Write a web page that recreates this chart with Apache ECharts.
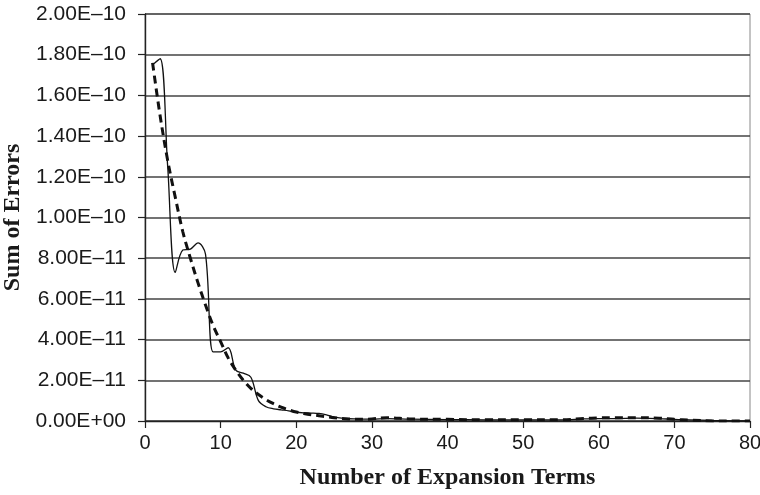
<!DOCTYPE html>
<html>
<head>
<meta charset="utf-8">
<script src="https://cdn.jsdelivr.net/npm/echarts@6/dist/echarts.min.js"></script>
<style>html,body{margin:0;padding:0;background:#fff}#c{width:760px;height:495px}</style>
</head>
<body>
<div id="c"></div>
<script>
const terms = [1,2,3,4,5,6,7,8,9,10,11,12,13,14,15,16,17,18,19,20,21,22,23,24,25,26,27,28,29,30,32,35,40,45,50,55,58,60,62,65,68,70,72,75,78,80];
const sumErrors = [1.75e-10,1.78e-10,1.25e-10,0.73e-10,0.84e-10,0.845e-10,0.875e-10,0.82e-10,0.34e-10,0.34e-10,0.36e-10,0.25e-10,0.235e-10,0.215e-10,0.10e-10,0.07e-10,0.06e-10,0.055e-10,0.05e-10,0.043e-10,0.04e-10,0.039e-10,0.037e-10,0.03e-10,0.02e-10,0.014e-10,0.011e-10,0.01e-10,0.009e-10,0.009e-10,0.012e-10,0.009e-10,0.007e-10,0.006e-10,0.006e-10,0.006e-10,0.01e-10,0.012e-10,0.012e-10,0.014e-10,0.012e-10,0.008e-10,0.006e-10,0.003e-10,0.001e-10,0.0];
const fitted = [1.76e-10,1.50e-10,1.28e-10,1.10e-10,0.93e-10,0.80e-10,0.68e-10,0.57e-10,0.47e-10,0.39e-10,0.31e-10,0.25e-10,0.20e-10,0.16e-10,0.13e-10,0.105e-10,0.085e-10,0.068e-10,0.055e-10,0.044e-10,0.037e-10,0.031e-10,0.026e-10,0.021e-10,0.016e-10,0.012e-10,0.010e-10,0.009e-10,0.009e-10,0.010e-10,0.016e-10,0.010e-10,0.008e-10,0.006e-10,0.006e-10,0.006e-10,0.012e-10,0.015e-10,0.016e-10,0.016e-10,0.014e-10,0.008e-10,0.005e-10,0.0,0.0,0.0];
const yTickLabels = ['0.00E+00','2.00E\u201311','4.00E\u201311','6.00E\u201311','8.00E\u201311','1.00E\u201310','1.20E\u201310','1.40E\u201310','1.60E\u201310','1.80E\u201310','2.00E\u201310'];
const xTitle = 'Number of Expansion Terms';
const yTitle = 'Sum of Errors';

const chart = echarts.init(document.getElementById('c'), null, {renderer:'canvas'});
const pair = arr => terms.map((t,i)=>[t, arr[i]]);
chart.setOption({
  animation:false,
  backgroundColor:'#fff',
  grid:{left:145,right:10,top:14,bottom:74,containLabel:false,outerBoundsMode:'none',
        show:true,borderColor:'#888',borderWidth:1},
  xAxis:{
    type:'value',min:0,max:80,interval:10,
    name:xTitle,nameLocation:'middle',nameGap:45,
    nameTextStyle:{fontFamily:'Liberation Serif',fontWeight:'bold',fontSize:24,color:'#1a1a1a'},
    axisLine:{show:true,lineStyle:{color:'#222',width:1.4}},
    axisTick:{show:true,inside:false,length:7,lineStyle:{color:'#222',width:1.2}},
    axisLabel:{fontFamily:'Liberation Sans',fontSize:20,color:'#1a1a1a',margin:12},
    splitLine:{show:false}
  },
  yAxis:{
    type:'value',min:0,max:2e-10,interval:2e-11,
    name:yTitle,nameLocation:'middle',nameGap:119,nameRotate:90,
    nameTextStyle:{fontFamily:'Liberation Serif',fontWeight:'bold',fontSize:24,color:'#1a1a1a'},
    axisLine:{show:true,lineStyle:{color:'#222',width:1.4}},
    axisTick:{show:true,length:7,lineStyle:{color:'#222',width:1.2}},
    axisLabel:{fontFamily:'Liberation Sans',fontSize:21,color:'#1a1a1a',margin:19,
      formatter:v=>yTickLabels[Math.round(v/2e-11)]},
    splitLine:{show:true,lineStyle:{color:'#444',width:1.6}}
  },
  series:[
    {type:'line',data:pair(sumErrors),smooth:0.35,showSymbol:false,
     lineStyle:{color:'#111',width:1.3,type:'solid'}},
    {type:'line',data:pair(fitted),smooth:0.35,showSymbol:false,
     lineStyle:{color:'#111',width:3,type:[8,5]}}
  ]
});
</script>
</body>
</html>
